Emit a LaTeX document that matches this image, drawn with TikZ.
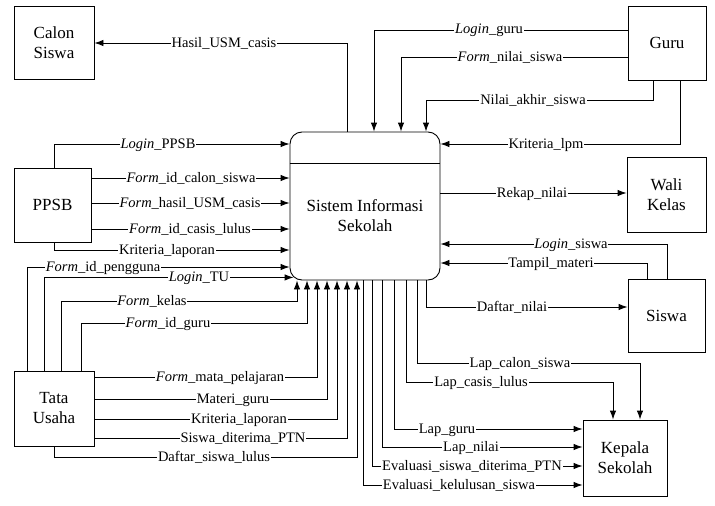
\documentclass[tikz,border=0pt]{standalone}
\usepackage{fontspec}
\setmainfont{Liberation Serif}
\usetikzlibrary{arrows.meta,calc}
\newcommand{\lblf}{\fontsize{14.5}{17}\selectfont}
\newcommand{\entf}{\fontsize{17}{20}\selectfont}
\begin{document}
\begin{tikzpicture}[x=1pt,y=-1pt,
  ent/.style={draw, line width=0.9pt, inner sep=0pt, align=center, font=\entf},
  proc/.style={draw, line width=0.9pt, rounded corners=12pt, inner sep=0pt, minimum width=150pt, minimum height=148pt},
  flow/.style={draw, line width=0.9pt, -{Latex[length=9pt,width=6.5pt]}},
  lbl/.style={fill=white, inner sep=0.8pt, font=\lblf, anchor=base, yshift=-4pt}]
\useasboundingbox (0,0) rectangle (715,506);

% entities
\node[ent, minimum width=80pt, minimum height=73pt] (calon) at (54,42.5) {Calon\\Siswa};
\node[ent, minimum width=78pt, minimum height=74pt] (guru) at (667,43) {Guru};
\node[ent, minimum width=77pt, minimum height=74pt] (ppsb) at (52.5,205) {PPSB};
\node[ent, minimum width=79pt, minimum height=75pt] (wali) at (666.5,194.5) {Wali\\Kelas};
\node[ent, minimum width=77pt, minimum height=73pt] (siswa) at (666.5,315.5) {Siswa};
\node[ent, minimum width=80pt, minimum height=75pt] (tu) at (54,408.5) {Tata\\Usaha};
\node[ent, minimum width=84pt, minimum height=76pt] (kepala) at (625,458) {Kepala\\Sekolah};

% process
\node[proc] (sis) at (365,206) {};
\draw[line width=0.9pt] (sis.west |- 0,163) -- (sis.east |- 0,163);
\node[font=\entf, align=center, inner sep=0pt] (sistext) at (365,216) {Sistem Informasi\\Sekolah};

% flows
\draw[flow] (sis.north -| 347,0) |- (calon.east |- 0,43);
\draw[flow] (ppsb.north -| 54,0) |- (sis.west |- 0,144);
\draw[flow] (ppsb.east |- 0,178) -- (sis.west |- 0,178);
\draw[flow] (ppsb.east |- 0,203) -- (sis.west |- 0,203);
\draw[flow] (ppsb.east |- 0,229) -- (sis.west |- 0,229);
\draw[flow] (ppsb.south -| 54,0) |- (sis.west |- 0,250);
\draw[flow] (tu.north -| 27,0) |- (sis.west |- 0,267);
\draw[flow] (tu.north -| 44,0) |- ($(sis.south west)+(4,-3)$);
\draw[flow] (tu.north -| 61,0) |- (297,301) -- (sis.south -| 297,0);
\draw[flow] (tu.north -| 81,0) |- (307,323) -- (sis.south -| 307,0);
\draw[flow] (tu.east |- 0,377) -| (sis.south -| 317,0);
\draw[flow] (tu.east |- 0,399) -| (sis.south -| 327,0);
\draw[flow] (tu.east |- 0,419) -| (sis.south -| 337,0);
\draw[flow] (tu.east |- 0,438) -| (sis.south -| 347,0);
\draw[flow] (tu.south -| 54,0) |- (357,457) -- (sis.south -| 357,0);

\draw[flow] (guru.west |- 0,30) -| (sis.north -| 374,0);
\draw[flow] (guru.west |- 0,57) -| (sis.north -| 401,0);
\draw[flow] (guru.south -| 653,0) |- (426,100) -- (sis.north -| 426,0);
\draw[flow] (guru.south -| 680,0) |- (sis.east |- 0,144);

\draw[flow] (sis.east |- 0,193) -- (wali.west |- 0,193);
\draw[flow] (siswa.north -| 667,0) |- (sis.east |- 0,244);
\draw[flow] (siswa.north -| 647,0) |- (sis.east |- 0,263);
\draw[flow] (sis.south -| 426,0) |- (siswa.west |- 0,307);

\draw[flow] (sis.south -| 417,0) |- (640,363) -- (kepala.north -| 640,0);
\draw[flow] (sis.south -| 406,0) |- (613,382) -- (kepala.north -| 613,0);
\draw[flow] (sis.south -| 394,0) |- (kepala.west |- 0,429);
\draw[flow] (sis.south -| 382,0) |- (kepala.west |- 0,447);
\draw[flow] (sis.south -| 372,0) |- (kepala.west |- 0,466);
\draw[flow] (sis.south -| 363,0) |- (kepala.west |- 0,485);

% labels
\node[lbl] (l1) at (224,43) {Hasil\_USM\_casis};
\node[lbl] (l2) at (158,144) {\textit{Login}\_PPSB};
\node[lbl] (l3) at (191,178) {\textit{Form}\_id\_calon\_siswa};
\node[lbl] (l4) at (190,203) {\textit{Form}\_hasil\_USM\_casis};
\node[lbl] (l5) at (190,229) {\textit{Form}\_id\_casis\_lulus};
\node[lbl] (l6) at (167,250) {Kriteria\_laporan};
\node[lbl] (l7) at (103,267) {\textit{Form}\_id\_pengguna};
\node[lbl] (l8) at (199,277) {\textit{Login}\_TU};
\node[lbl] (l9) at (152,301) {\textit{Form}\_kelas};
\node[lbl] (l10) at (168,323) {\textit{Form}\_id\_guru};
\node[lbl] (l11) at (220,377) {\textit{Form}\_mata\_pelajaran};
\node[lbl] (l12) at (233,399) {Materi\_guru};
\node[lbl] (l13) at (239,419) {Kriteria\_laporan};
\node[lbl] (l14) at (243,438) {Siswa\_diterima\_PTN};
\node[lbl] (l15) at (214,457) {Daftar\_siswa\_lulus};
\node[lbl] (l16) at (489,30) {\textit{Login}\_guru};
\node[lbl] (l17) at (510,57) {\textit{Form}\_nilai\_siswa};
\node[lbl] (l18) at (533,100) {Nilai\_akhir\_siswa};
\node[lbl] (l19) at (546,144) {Kriteria\_lpm};
\node[lbl] (l20) at (532,193) {Rekap\_nilai};
\node[lbl] (l21) at (571,244) {\textit{Login}\_siswa};
\node[lbl] (l22) at (551,263) {Tampil\_materi};
\node[lbl] (l23) at (512,307) {Daftar\_nilai};
\node[lbl] (l24) at (520,363) {Lap\_calon\_siswa};
\node[lbl] (l25) at (481,382) {Lap\_casis\_lulus};
\node[lbl] (l26) at (447,429) {Lap\_guru};
\node[lbl] (l27) at (471,447) {Lap\_nilai};
\node[lbl] (l28) at (472,466) {Evaluasi\_siswa\_diterima\_PTN};
\node[lbl] (l29) at (459,485) {Evaluasi\_kelulusan\_siswa};
\end{tikzpicture}
\end{document}
